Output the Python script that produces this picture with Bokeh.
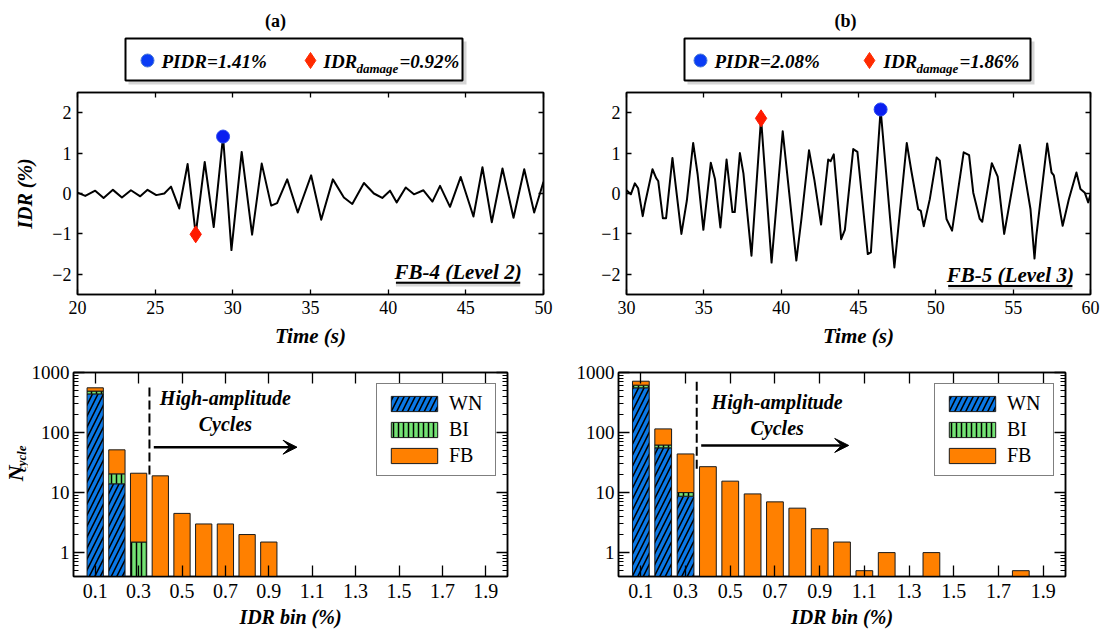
import numpy as np
from bokeh.plotting import figure
from bokeh.layouts import column, row
from bokeh.models import (Range1d, FixedTicker, LinearAxis, LogAxis, CustomJSTickFormatter,
                          Legend, LegendItem, Arrow, VeeHead)
from bokeh.core.properties import value
from bokeh.embed import file_html
from bokeh.resources import INLINE

SERIF = "Liberation Serif"

# ---------------- data ----------------
# (a) FB-4 (Level 2) IDR time history: peaks / troughs / kinks
time_a = [20.0, 20.5, 21.14, 21.68, 22.28, 22.86, 23.44, 24.04, 24.51, 25.07, 25.59, 26.02,
          26.55, 27.09, 27.61, 28.19, 28.77, 29.37, 29.91, 30.57, 31.24, 31.86, 32.47, 32.85,
          33.5, 34.18, 35.04, 35.69, 36.44, 37.15, 37.69, 38.44, 39.08, 39.62, 40.12, 40.55,
          41.13, 41.66, 42.27, 42.85, 43.34, 43.98, 44.67, 45.49, 46.07, 46.67, 47.36, 48.07,
          48.76, 49.40, 50.0]
idr_a = [0.02, -0.06, 0.07, -0.11, 0.09, -0.10, 0.08, -0.07, 0.09, -0.04, 0.0, 0.17,
         -0.37, 0.73, -1.01, 0.78, -0.83, 1.41, -1.40, 1.03, -1.02, 0.74, -0.30, -0.24,
         0.35, -0.47, 0.45, -0.65, 0.35, -0.10, -0.26, 0.26, 0.0, -0.11, 0.07, -0.22,
         0.15, -0.02, 0.08, -0.20, 0.19, -0.33, 0.41, -0.57, 0.65, -0.71, 0.62, -0.60,
         0.60, -0.47, 0.29]

# (b) FB-5 (Level 3) IDR time history
time_b = [30.0, 30.28, 30.54, 30.75, 31.05, 31.2, 31.68, 31.92, 32.05, 32.35, 32.56, 32.97,
          33.55, 33.9, 34.31, 34.6, 34.97, 35.45, 35.72, 36.07, 36.47, 36.85, 37.0, 37.33,
          37.56, 38.08, 38.70, 39.38, 40.1, 40.98, 41.31, 41.8, 42.15, 42.58, 43.04, 43.2,
          43.4, 43.88, 44.12, 44.66, 44.93, 45.6, 45.8, 46.43, 47.32, 48.12, 48.42, 48.86,
          49.03, 49.22, 49.61, 50.05, 50.25, 50.69, 51.05, 51.8, 52.15, 52.42, 52.84, 53.0,
          53.62, 54.0, 54.42, 55.43, 55.82, 56.12, 56.38, 56.5, 57.2, 57.48, 57.63, 58.2,
          58.6, 59.09, 59.35, 59.63, 59.85, 60.0]
idr_b = [0.08, -0.02, 0.25, 0.13, -0.56, -0.24, 0.60, 0.38, 0.31, -0.61, -0.61, 0.88,
         -1.0, -0.18, 1.25, 0.47, -0.9, 0.76, 0.36, -0.84, 0.84, -0.46, -0.46, 1.0,
         0.50, -1.54, 1.86, -1.71, 1.54, -1.66, -0.63, 1.07, 0.33, -0.77, 0.84, 0.80,
         0.97, -1.13, -0.9, 1.10, 1.03, -1.50, -1.46, 2.08, -1.83, 1.25, 0.55, -0.39,
         -0.43, -0.81, -0.14, 0.89, 0.82, -0.63, -0.92, 1.02, 0.95, 0.02, -0.63, -0.70,
         0.75, 0.42, -1.0, 1.20, 0.30, -0.39, -1.61, -1.04, 1.24, 0.52, 0.45, -0.80,
         -0.14, 0.52, 0.11, 0.02, -0.22, -0.02]

pidr_a, pidr_time_a = 1.41, 29.37
dmg_a, dmg_time_a, dmg_marker_a = 0.92, 27.61, -1.01
pidr_b, pidr_time_b = 2.08, 46.43
dmg_b, dmg_time_b, dmg_marker_b = 1.86, 38.70, 1.86

time_ticks_a = [20, 25, 30, 35, 40, 45, 50]
time_ticks_b = [30, 35, 40, 45, 50, 55, 60]
idr_ticks = [-2, -1, 0, 1, 2]

# cycle counts per IDR bin
idr_bins = [0.1, 0.2, 0.3, 0.4, 0.5, 0.6, 0.7, 0.8, 0.9, 1.0,
            1.1, 1.2, 1.3, 1.4, 1.5, 1.6, 1.7, 1.8, 1.9]
bin_ticks = [0.1, 0.3, 0.5, 0.7, 0.9, 1.1, 1.3, 1.5, 1.7, 1.9]
count_ticks = [1, 10, 100, 1000]

wn_a = [440, 14, 0, 0, 0, 0, 0, 0, 0, 0, 0, 0, 0, 0, 0, 0, 0, 0, 0]
bi_a = [50, 6.5, 1.5, 0, 0, 0, 0, 0, 0, 0, 0, 0, 0, 0, 0, 0, 0, 0, 0]
fb_a = [66, 31, 19.5, 19, 4.5, 3, 3, 2, 1.5, 0, 0, 0, 0, 0, 0, 0, 0, 0, 0]

wn_b = [556, 55.6, 8.7, 0, 0, 0, 0, 0, 0, 0, 0, 0, 0, 0, 0, 0, 0, 0, 0]
bi_b = [59, 6.4, 1.3, 0, 0, 0, 0, 0, 0, 0, 0, 0, 0, 0, 0, 0, 0, 0, 0]
fb_b = [101, 53, 34, 27, 15.5, 9.5, 7, 5.5, 2.5, 1.5, 0.5, 1.0, 0, 1.0, 0, 0, 0, 0.5, 0]

high_amp_threshold = 0.35

COL_WN = "#0a78e6"
COL_BI = "#74e374"
COL_FB = "#ff8000"

minus_fmt = CustomJSTickFormatter(code="return tick < 0 ? '\\u2212' + String(-tick) : String(tick);")
plain_fmt = CustomJSTickFormatter(code="return String(tick);")
blank_fmt = CustomJSTickFormatter(code="return '';")


def style_axis(ax, ticker, major_len, minor_len, font_size, formatter=None, labels=True):
    ax.ticker = ticker
    ax.major_tick_in = major_len
    ax.major_tick_out = 0
    ax.minor_tick_in = minor_len
    ax.minor_tick_out = 0
    ax.major_tick_line_width = 1.3
    ax.minor_tick_line_width = 1
    ax.major_tick_line_color = "black"
    ax.minor_tick_line_color = "black"
    ax.axis_line_width = 1.5
    ax.axis_line_color = "black"
    if labels:
        ax.formatter = formatter
        ax.major_label_text_font = SERIF
        ax.major_label_text_font_size = font_size
        ax.major_label_text_color = "black"
        ax.major_label_standoff = 6
    else:
        ax.formatter = blank_fmt
        ax.major_label_text_font_size = "10px"
        ax.major_label_standoff = 0


def axis_title(ax, text, size="20px", standoff=4):
    ax.axis_label = text
    ax.axis_label_text_font = SERIF
    ax.axis_label_text_font_style = "bold italic"
    ax.axis_label_text_font_size = size
    ax.axis_label_text_color = "black"
    ax.axis_label_standoff = standoff


def blank_figure(w, h, xr, yr):
    f = figure(width=w, height=h, x_range=Range1d(*xr), y_range=Range1d(*yr),
               min_border=0, x_axis_location=None, y_axis_location=None,
               output_backend="svg", toolbar_location=None)
    f.grid.visible = False
    f.outline_line_color = None
    return f


def ts_figure(t, v, xticks, fw, bl, br, ylabel, pidr_xy, dmg_xy, tag, tag_xy, ul_x):
    p = figure(frame_width=fw, frame_height=202,
               x_range=Range1d(xticks[0], xticks[-1]), y_range=Range1d(-2.5, 2.5),
               min_border_left=bl, min_border_right=br, min_border_top=4, min_border_bottom=56,
               output_backend="svg", toolbar_location=None)
    p.grid.visible = False
    p.outline_line_color = "black"
    p.outline_line_width = 1.5
    style_axis(p.xaxis[0], FixedTicker(ticks=xticks), 5, 0, "18px", minus_fmt)
    style_axis(p.yaxis[0], FixedTicker(ticks=idr_ticks), 5, 0, "18px", minus_fmt)
    axis_title(p.xaxis[0], "Time (s)", size="21px", standoff=7)
    if ylabel:
        axis_title(p.yaxis[0], ylabel, size="20px", standoff=13)
    top = LinearAxis()
    style_axis(top, FixedTicker(ticks=xticks), 5, 0, "0px", labels=False)
    p.add_layout(top, "above")
    right = LinearAxis()
    style_axis(right, FixedTicker(ticks=idr_ticks), 5, 0, "0px", labels=False)
    p.add_layout(right, "right")

    p.line(t, v, line_color="black", line_width=2, line_join="round")
    p.scatter([dmg_xy[0]], [dmg_xy[1]], marker="diamond", size=17,
              fill_color="#ff1a00", line_color="#ff1a00")
    p.scatter([pidr_xy[0]], [pidr_xy[1]], marker="circle", size=13,
              fill_color="#0a1ef0", line_color="#2a4af0")
    p.text([tag_xy[0]], [tag_xy[1]], text=[tag], text_font=value(SERIF),
           text_font_style="bold italic", text_font_size="21px",
           text_align="center", text_baseline="alphabetic", text_color="black")
    p.line(ul_x, [tag_xy[1] - 0.3, tag_xy[1] - 0.3], line_color="#bbbbbb", line_width=5, line_alpha=0.6)
    p.line(ul_x, [tag_xy[1] - 0.27, tag_xy[1] - 0.27], line_color="black", line_width=2)
    return p


def bar_figure(wn, bi, fb, fw, bl, br, bt, bb, dash_top, dash_bot, arrow_y, text_pos):
    p = figure(frame_width=fw, frame_height=204,
               x_range=Range1d(0.0, 2.0), y_range=Range1d(0.4, 1000), y_axis_type="log",
               min_border_left=bl, min_border_right=br, min_border_top=bt, min_border_bottom=bb,
               output_backend="svg", toolbar_location=None)
    p.grid.visible = False
    p.outline_line_color = "black"
    p.outline_line_width = 1.5
    minor = [m * d for d in (0.1, 1, 10, 100) for m in range(2, 10)]
    style_axis(p.xaxis[0], FixedTicker(ticks=bin_ticks), 11, 0, "20px", plain_fmt)
    style_axis(p.yaxis[0], FixedTicker(ticks=count_ticks, minor_ticks=minor), 11, 5, "19px", plain_fmt)
    p.xaxis[0].major_label_standoff = 7
    p.yaxis[0].major_label_standoff = 4
    axis_title(p.xaxis[0], "IDR bin (%)", size="20px", standoff=5)
    top = LinearAxis()
    style_axis(top, FixedTicker(ticks=bin_ticks), 11, 0, "0px", labels=False)
    p.add_layout(top, "above")
    right = LogAxis()
    style_axis(right, FixedTicker(ticks=count_ticks, minor_ticks=minor), 11, 5, "0px", labels=False)
    p.add_layout(right, "right")

    base = 0.1
    x = np.array(idr_bins)
    c1 = np.array(wn, float)
    c2 = c1 + np.array(bi, float)
    c3 = c2 + np.array(fb, float)
    lo1 = np.maximum(c1, base)
    lo2 = np.maximum(c2, base)
    m_wn = c1 > 0
    m_bi = c2 > c1
    m_fb = c3 > c2
    common = dict(width=0.075, line_color="#1a1a1a", line_width=1)
    r_wn = p.vbar(x=x[m_wn], bottom=np.full(int(m_wn.sum()), base), top=c1[m_wn], fill_color=COL_WN,
                  hatch_pattern="/", hatch_color="black", hatch_scale=11, hatch_weight=1.6, **common)
    r_bi = p.vbar(x=x[m_bi], bottom=lo1[m_bi], top=c2[m_bi], fill_color=COL_BI,
                  hatch_pattern="|", hatch_color="black", hatch_scale=5, hatch_weight=1.5, **common)
    r_fb = p.vbar(x=x[m_fb], bottom=lo2[m_fb], top=c3[m_fb], fill_color=COL_FB, **common)

    p.line([high_amp_threshold, high_amp_threshold], [dash_bot, dash_top],
           line_color="black", line_width=2, line_dash="9 4")
    p.add_layout(Arrow(end=VeeHead(size=14, fill_color="black", line_color="black"),
                       x_start=high_amp_threshold + 0.02, y_start=arrow_y,
                       x_end=1.03, y_end=arrow_y, line_width=2.5, line_color="black"))
    p.text([text_pos[0], text_pos[0]], [text_pos[1], text_pos[2]],
           text=["High-amplitude", "Cycles"], text_font=value(SERIF),
           text_font_style="bold italic", text_font_size="20px",
           text_align="center", text_baseline="middle", text_color="black")

    leg = Legend(items=[LegendItem(label="WN", renderers=[r_wn]),
                        LegendItem(label="BI", renderers=[r_bi]),
                        LegendItem(label="FB", renderers=[r_fb])],
                 location="top_right")
    leg.label_text_font = SERIF
    leg.label_text_font_size = "20px"
    leg.label_text_color = "black"
    leg.label_height = 19
    leg.label_width = 38
    leg.glyph_width = 58
    leg.glyph_height = 19
    leg.spacing = 3
    leg.padding = 8
    leg.margin = 11
    leg.label_standoff = 6
    leg.border_line_color = "black"
    leg.border_line_width = 1.5
    leg.background_fill_alpha = 1
    p.add_layout(leg)
    return p


# ---------------- header with panel tags and marker legends ----------------
h = blank_figure(1104, 88, (0, 1104), (88, 0))
h.text([275, 845], [20, 20], text=["(a)", "(b)"], text_font=value(SERIF),
       text_font_style="bold", text_font_size="18px", text_align="center",
       text_baseline="middle", text_color="black")
h.quad(left=[128, 687], right=[466, 1034], top=[41, 41], bottom=[84, 84],
       fill_color="#888888", fill_alpha=0.35, line_color=None)
h.quad(left=[125, 684], right=[462, 1030], top=[38, 38], bottom=[80, 80],
       fill_color="white", line_color="black", line_width=2)
h.scatter([147, 700], [60, 60], marker="circle", size=13, fill_color="#0a3cf5", line_color="#4a7ad8")
h.scatter([310, 869], [60, 60], marker="diamond", size=16, fill_color="#ff2a00", line_color="#ff2a00")
h.text([161, 714], [61, 61], text=[f"PIDR={pidr_a:.2f}%", f"PIDR={pidr_b:.2f}%"],
       text_font=value(SERIF), text_font_style="bold italic", text_font_size="19px",
       text_align="left", text_baseline="middle", text_color="black")
h.text([323, 883], [61, 61], text=["IDR", "IDR"],
       text_font=value(SERIF), text_font_style="bold italic", text_font_size="19px",
       text_align="left", text_baseline="middle", text_color="black")
h.text([356, 916], [68, 68], text=["damage", "damage"],
       text_font=value(SERIF), text_font_style="bold italic", text_font_size="13px",
       text_align="left", text_baseline="middle", text_color="black")
h.text([399, 959], [61, 61], text=[f"={dmg_a:.2f}%", f"={dmg_b:.2f}%"],
       text_font=value(SERIF), text_font_style="bold italic", text_font_size="19px",
       text_align="left", text_baseline="middle", text_color="black")

# ---------------- y label strip for the cycle-count panel ----------------
ylab = blank_figure(28, 280, (0, 28), (0, 280))
ylab.text([14.5], [141], text=["N"], angle=np.pi / 2, text_font=value(SERIF),
          text_font_style="bold italic", text_font_size="22px",
          text_align="center", text_baseline="middle", text_color="black")
ylab.text([20.5], [161], text=["cycle"], angle=np.pi / 2, text_font=value(SERIF),
          text_font_style="bold italic", text_font_size="13px",
          text_align="center", text_baseline="middle", text_color="black")

# ---------------- panels ----------------
ts_a = ts_figure(time_a, idr_a, time_ticks_a, 466, 77, 17, "IDR (%)",
                 (pidr_time_a, pidr_a), (dmg_time_a, dmg_marker_a),
                 "FB-4 (Level 2)", (44.5, -1.94), [40.5, 48.5])
ts_b = ts_figure(time_b, idr_b, time_ticks_b, 464, 66, 14, None,
                 (pidr_time_b, pidr_b), (dmg_time_b, dmg_marker_b),
                 "FB-5 (Level 3)", (54.82, -2.02), [50.8, 58.83])

bar_a = bar_figure(wn_a, bi_a, fb_a, 434, 45, 53, 21, 55, 560, 20, 57, (0.70, 379, 141))
bar_b = bar_figure(wn_b, bi_b, fb_b, 447, 58, 39, 22, 54, 716, 25, 61, (0.71, 325, 120))

layout = column(h, row(ts_a, ts_b), row(ylab, bar_a, bar_b))
open("out.html", "w").write(file_html(layout, INLINE))
